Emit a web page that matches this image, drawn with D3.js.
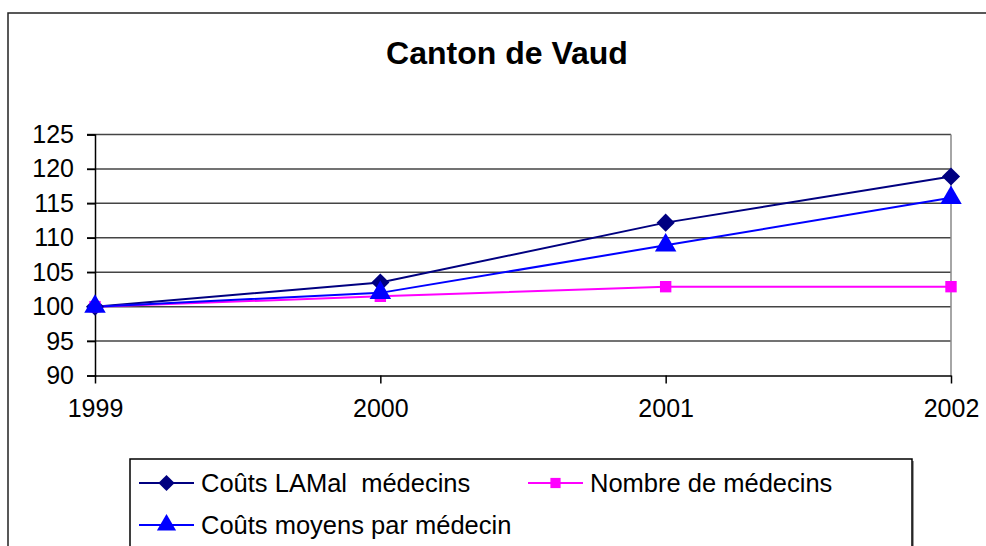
<!DOCTYPE html>
<html><head><meta charset="utf-8">
<script src="https://cdn.jsdelivr.net/npm/d3@7"></script>
<style>
html,body{margin:0;padding:0;background:#fff;}
svg{display:block;font-family:"Liberation Sans",Arial,sans-serif;}
</style></head>
<body>
<svg id="chart" width="986" height="546"></svg>
<script>
const title = "Canton de Vaud";
const years = ["1999","2000","2001","2002"];
const yTicks = [90,95,100,105,110,115,120,125];
const coutsLAMal = [100,103.5,112.2,118.9];
const nombreMedecins = [100,101.5,102.9,102.9];
const coutsMoyens = [100,102,108.9,115.8];
const seriesNames = ["Coûts LAMal  médecins","Nombre de médecins","Coûts moyens par médecin"];
const seriesColors = ["#000080","#FF00FF","#0000FF"];
const seriesSymbols = [d3.symbolDiamond2, d3.symbolSquare, d3.symbolTriangle];

const svg = d3.select("#chart");

// outer frame
svg.append("rect").attr("x",8).attr("y",13).attr("width",1100).attr("height",700)
  .attr("fill","#fff").attr("stroke","#222").attr("stroke-width",1.5);

svg.append("text").attr("x",507).attr("y",64).attr("text-anchor","middle")
  .attr("font-size",32).attr("font-weight","bold").text(title);

const x = d3.scalePoint().domain(years).range([95,951]);
const y = d3.scaleLinear().domain([90,125]).range([375.5,134.5]);

// gridlines
svg.append("g").selectAll("line").data(yTicks.filter(v=>v>90)).join("line")
  .attr("x1",87).attr("x2",951).attr("y1",d=>y(d)).attr("y2",d=>y(d))
  .attr("stroke","#444").attr("stroke-width",1.5);
// right border
svg.append("line").attr("x1",951).attr("x2",951).attr("y1",y(125)).attr("y2",y(90))
  .attr("stroke","#888").attr("stroke-width",1.5);

// y axis
const yAxis = svg.append("g").attr("transform","translate(95,0)")
  .call(d3.axisLeft(y).tickValues(yTicks).tickSize(8).tickPadding(13).tickFormat(d3.format("d")));
yAxis.select(".domain").attr("stroke","#000").attr("stroke-width",1.5);
yAxis.selectAll(".tick line").attr("stroke","#000").attr("stroke-width",1.5);
yAxis.selectAll("text").attr("font-size",25).attr("fill","#000").attr("font-family","Liberation Sans, Arial, sans-serif");

// x axis
const xAxis = svg.append("g").attr("transform",`translate(0,${y(90)})`)
  .call(d3.axisBottom(x).tickSize(8).tickPadding(16).tickSizeOuter(0));
xAxis.select(".domain").attr("stroke","#000").attr("stroke-width",1.5);
xAxis.selectAll(".tick line").attr("stroke","#000").attr("stroke-width",1.5);
xAxis.selectAll("text").attr("font-size",25).attr("fill","#000").attr("font-family","Liberation Sans, Arial, sans-serif");

const allSeries = [coutsLAMal, nombreMedecins, coutsMoyens];
const symSizes = [210,130,200];
const line = d3.line().x((d,i)=>x(years[i])).y(d=>y(d));

allSeries.forEach((vals,k)=>{
  svg.append("path").datum(vals).attr("d",line).attr("fill","none")
    .attr("stroke",seriesColors[k]).attr("stroke-width",2);
});
allSeries.forEach((vals,k)=>{
  svg.append("g").selectAll("path").data(vals).join("path")
    .attr("transform",(d,i)=>`translate(${x(years[i])},${y(d)})`)
    .attr("d",d3.symbol().type(seriesSymbols[k]).size(symSizes[k]))
    .attr("fill",seriesColors[k]);
});

// legend
const lg = svg.append("g");
lg.append("rect").attr("x",132).attr("y",461).attr("width",782).attr("height",200).attr("fill","#999");
lg.append("rect").attr("x",130).attr("y",459).attr("width",782).attr("height",200)
  .attr("fill","#fff").attr("stroke","#000").attr("stroke-width",1.5);
const legendPos = [[139,483],[528,483],[139,525]];
seriesNames.forEach((name,k)=>{
  const [lx,ly] = legendPos[k];
  lg.append("line").attr("x1",lx).attr("x2",lx+55).attr("y1",ly).attr("y2",ly)
    .attr("stroke",seriesColors[k]).attr("stroke-width",2);
  lg.append("path").attr("transform",`translate(${lx+27.5},${ly})`)
    .attr("d",d3.symbol().type(seriesSymbols[k]).size(symSizes[k]*0.8)).attr("fill",seriesColors[k]);
  lg.append("text").attr("x",lx+62).attr("y",ly+9).attr("font-size",25.5)
    .attr("xml:space","preserve").style("white-space","pre").text(name);
});
</script>
</body></html>
